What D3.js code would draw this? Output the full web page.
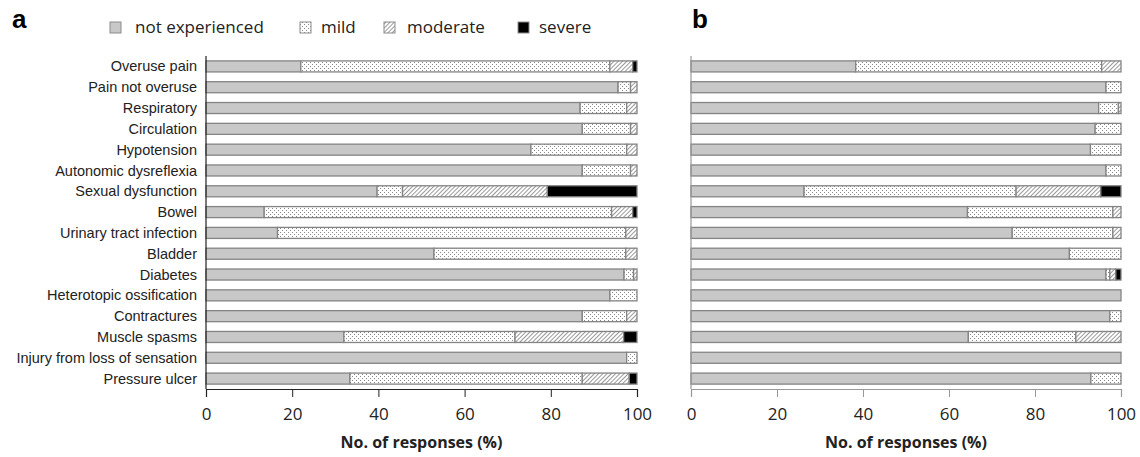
<!DOCTYPE html>
<html>
<head>
<meta charset="utf-8">
<script src="https://cdn.jsdelivr.net/npm/d3@7"></script>
<style>
  body { margin: 0; background: #fff; }
  svg text { font-family: "Liberation Sans Narrow", "Liberation Sans", Arial, sans-serif; }
</style>
</head>
<body>
<div id="chart"></div>
<script>
var categories = ["Overuse pain", "Pain not overuse", "Respiratory", "Circulation", "Hypotension",
    "Autonomic dysreflexia", "Sexual dysfunction", "Bowel", "Urinary tract infection", "Bladder",
    "Diabetes", "Heterotopic ossification", "Contractures", "Muscle spasms",
    "Injury from loss of sensation", "Pressure ulcer"];
var levels = ["not experienced", "mild", "moderate", "severe"];
var ticks = [0, 20, 40, 60, 80, 100];

// panel a
var notExpA   = [22.0, 95.6, 86.8, 87.3, 75.4, 87.3, 39.7, 13.5, 16.6, 52.9, 97.0, 93.7, 87.3, 32.0, 97.6, 33.4];
var mildA     = [71.7,  2.9, 10.8, 11.2, 22.2, 11.2,  5.9, 80.6, 80.8, 44.5,  2.2,  6.3, 10.3, 39.7,  2.4, 53.9];
var moderateA = [ 5.3,  1.5,  2.4,  1.5,  2.4,  1.5, 33.6,  4.9,  2.6,  2.6,  0.8,  0.0,  2.4, 25.2,  0.0, 10.9];
var severeA   = [ 1.0,  0.0,  0.0,  0.0,  0.0,  0.0, 20.8,  1.0,  0.0,  0.0,  0.0,  0.0,  0.0,  3.1,  0.0,  1.8];

// panel b
var notExpB   = [38.3, 96.5, 94.8, 94.0, 92.9, 96.5, 26.3, 64.3, 74.7, 88.0, 96.5, 100, 97.4, 64.5, 100, 93.0];
var mildB     = [57.2,  3.5,  4.6,  6.0,  7.1,  3.5, 49.3, 33.8, 23.4, 12.0,  0.9,   0,  2.6, 25.0,   0,  7.0];
var moderateB = [ 4.5,  0.0,  0.6,  0.0,  0.0,  0.0, 19.7,  1.9,  1.9,  0.0,  1.4,   0,  0.0, 10.5,   0,  0.0];
var severeB   = [ 0.0,  0.0,  0.0,  0.0,  0.0,  0.0,  4.7,  0.0,  0.0,  0.0,  1.2,   0,  0.0,  0.0,   0,  0.0];

var svg = d3.select("#chart").append("svg")
    .attr("width", 1140).attr("height", 457);

var defs = svg.append("defs");
var dots = defs.append("pattern").attr("id", "pat-mild")
    .attr("patternUnits", "userSpaceOnUse").attr("width", 4).attr("height", 4);
dots.append("rect").attr("width", 4).attr("height", 4).attr("fill", "#fff");
dots.append("rect").attr("x", 0).attr("y", 0).attr("width", 1).attr("height", 1).attr("fill", "#888");
dots.append("rect").attr("x", 2).attr("y", 2).attr("width", 1).attr("height", 1).attr("fill", "#888");

var hatch = defs.append("pattern").attr("id", "pat-moderate")
    .attr("patternUnits", "userSpaceOnUse").attr("width", 3).attr("height", 3)
    .attr("patternTransform", "rotate(45)");
hatch.append("rect").attr("width", 3).attr("height", 3).attr("fill", "#fff");
hatch.append("line").attr("x1", 0).attr("y1", 0).attr("x2", 0).attr("y2", 3)
    .attr("stroke", "#555").attr("stroke-width", 1.2);

var fills = ["#c8c8c8", "url(#pat-mild)", "url(#pat-moderate)", "#000"];

var y = d3.scaleBand().domain(categories).range([56, 389]).paddingInner(0.47).paddingOuter(0.235);

function panel(x0, x1, series, showLabels, axisColor) {
    var x = d3.scaleLinear().domain([0, 100]).range([x0, x1]);
    var g = svg.append("g");

    var rows = categories.map(function(c, i) {
        var acc = 0;
        return series.map(function(s, k) {
            var seg = {cat: c, k: k, start: acc, end: acc + s[i]};
            acc += s[i];
            return seg;
        }).filter(function(d) { return d.end > d.start; });
    });

    g.selectAll("g.row").data(rows).enter().append("g").attr("class", "row")
        .selectAll("rect").data(function(d) { return d; }).enter().append("rect")
        .attr("x", function(d) { return x(d.start); })
        .attr("width", function(d) { return x(d.end) - x(d.start); })
        .attr("y", function(d) { return y(d.cat); })
        .attr("height", y.bandwidth())
        .attr("fill", function(d) { return fills[d.k]; })
        .attr("stroke", "#848484").attr("stroke-width", 1.3);

    // y axis line
    g.append("line").attr("x1", x0).attr("x2", x0).attr("y1", 56).attr("y2", 389)
        .attr("stroke", axisColor).attr("stroke-width", 1.2);

    if (showLabels) {
        g.selectAll("text.cat").data(categories).enter().append("text")
            .attr("class", "cat")
            .attr("x", x0 - 9)
            .attr("y", function(d) { return y(d) + y.bandwidth() / 2; })
            .attr("dy", "0.35em")
            .attr("text-anchor", "end")
            .attr("font-size", 14.5)
            .attr("fill", "#222")
            .text(function(d) { return d; });
    }

    var ax = g.append("g").attr("transform", "translate(0,389)")
        .call(d3.axisBottom(x).tickValues(ticks).tickSize(8).tickPadding(11));
    ax.select(".domain").attr("stroke", axisColor).attr("stroke-width", 1.2);
    ax.selectAll(".tick line").attr("stroke", axisColor);
    ax.selectAll(".tick text")
        .attr("font-size", 17).attr("fill", "#222")
        .style("font-family", "'Open Sans', sans-serif");

    g.append("text").attr("x", (x0 + x1) / 2).attr("y", 448)
        .attr("text-anchor", "middle").attr("font-size", 16).attr("font-weight", "bold")
        .attr("fill", "#222")
        .style("font-family", "'Open Sans', sans-serif")
        .text("No. of responses (%)");
}

panel(206, 637, [notExpA, mildA, moderateA, severeA], true, "#222");
panel(691, 1121, [notExpB, mildB, moderateB, severeB], false, "#999");

// panel letters
svg.append("text").attr("x", 12).attr("y", 28).attr("font-size", 26).attr("font-weight", "bold")
    .style("font-family", "'Liberation Sans', Arial, sans-serif").text("a");
svg.append("text").attr("x", 692).attr("y", 28).attr("font-size", 26).attr("font-weight", "bold")
    .style("font-family", "'Liberation Sans', Arial, sans-serif").text("b");

// legend
var swatchX = [110, 300, 384, 518];
var labelX = [135, 321, 407, 539];
var leg = svg.append("g").selectAll("g").data(levels).enter().append("g");
leg.append("rect")
    .attr("x", function(d, i) { return swatchX[i]; })
    .attr("y", 22).attr("width", 11).attr("height", 11)
    .attr("fill", function(d, i) { return fills[i]; })
    .attr("stroke", "#8c8c8c").attr("stroke-width", 1);
leg.append("text")
    .attr("x", function(d, i) { return labelX[i]; })
    .attr("y", 33)
    .attr("font-size", 17).attr("fill", "#222")
    .style("font-family", "'Open Sans', sans-serif")
    .text(function(d) { return d; });
</script>
</body>
</html>
